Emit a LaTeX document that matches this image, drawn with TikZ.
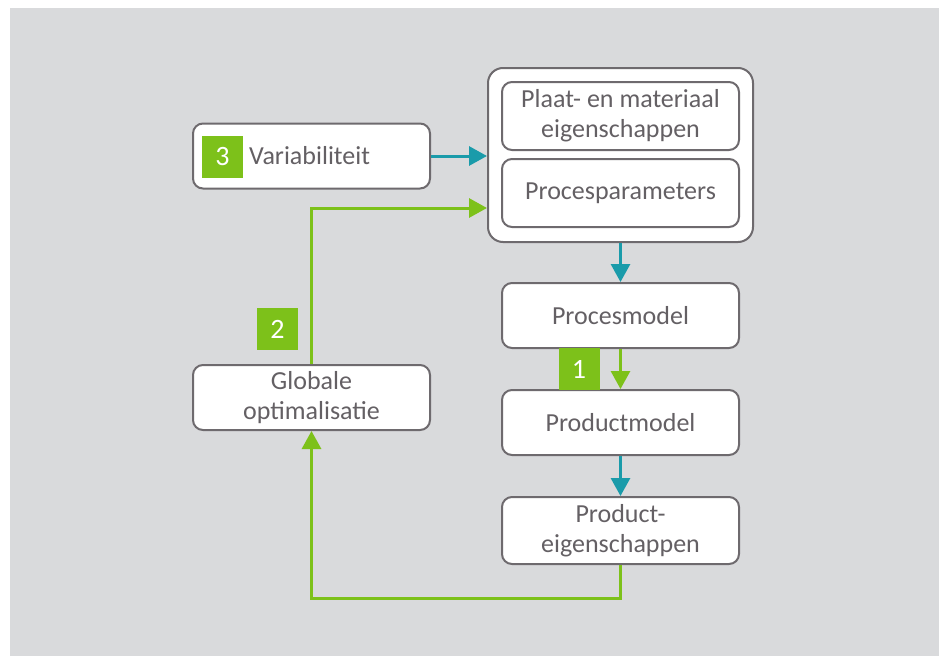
\documentclass[tikz,border=0pt]{standalone}
\usepackage{fontspec}
\setmainfont{Carlito}
\usetikzlibrary{arrows.meta}
\definecolor{bgc}{HTML}{D9DADC}
\definecolor{edgec}{HTML}{6E6A6E}
\definecolor{txtc}{HTML}{646064}
\definecolor{tealc}{HTML}{1A9BAA}
\definecolor{greenc}{HTML}{7DC11A}
\tikzset{
  box/.style={draw=edgec, line width=2pt, fill=white, rounded corners=10pt, minimum width=237pt, minimum height=65pt, inner sep=0pt, align=center, text=txtc, font=\fontsize{26}{30}\selectfont},
  numsq/.style={fill=greenc, minimum width=41pt, minimum height=42pt, inner sep=0pt, text=white, font=\fontsize{28}{30}\selectfont},
  tarrow/.style={draw=tealc, line width=3pt, -{Triangle[width=19pt,length=18pt]}},
  garrow/.style={draw=greenc, line width=3pt, -{Triangle[width=19pt,length=18pt]}},
}
\begin{document}
\begin{tikzpicture}[x=1pt,y=-1pt]
\useasboundingbox (0,0) rectangle (942,656);
\fill[white] (0,0) rectangle (942,656);
\fill[bgc] (10,8) rectangle (939,656);
% outer group box
\node[draw=edgec, line width=2pt, fill=white, rounded corners=15pt, minimum width=265pt, minimum height=174pt, inner sep=0pt] (outer) at (620.5,155) {};
\node[box, minimum height=68pt] (plaat) at (620.5,116) {Plaat- en materiaal\\eigenschappen};
\node[box, minimum height=68pt] (procp) at (620.5,193) {Procesparameters};
\node[box] (procm) at (620.5,315.5) {Procesmodel};
\node[box] (prodm) at (620.5,422.5) {Productmodel};
\node[box, minimum height=67pt] (prode) at (620.5,530.5) {Product-\\eigenschappen};
\node[box] (glob) at (311.5,397.5) {Globale\\optimalisatie};
\node[box] (var) at (311.5,156) {};
\node[anchor=west, inner sep=0pt, text=txtc, font=\fontsize{26}{30}\selectfont] (vartxt) at (249,156) {Variabiliteit};
\node[numsq] (sq3) at (222.5,156.5) {3};
\node[numsq] (sq2) at (277.5,329) {2};
\node[numsq] (sq1) at (579,369) {1};
% connectors
\draw[tarrow] (var.east) -- (var.east -| outer.west);
\coordinate (gturn) at (311.5,208);
\draw[garrow] (glob.north) -- (gturn) -- (gturn -| outer.west);
\draw[tarrow] (outer.south) -- (procm.north);
\draw[garrow] (procm.south) -- (prodm.north);
\draw[tarrow] (prodm.south) -- (prode.north);
\coordinate (gbot) at (620.5,598);
\draw[garrow] (prode.south) -- (gbot) -| (glob.south);
\end{tikzpicture}
\end{document}
